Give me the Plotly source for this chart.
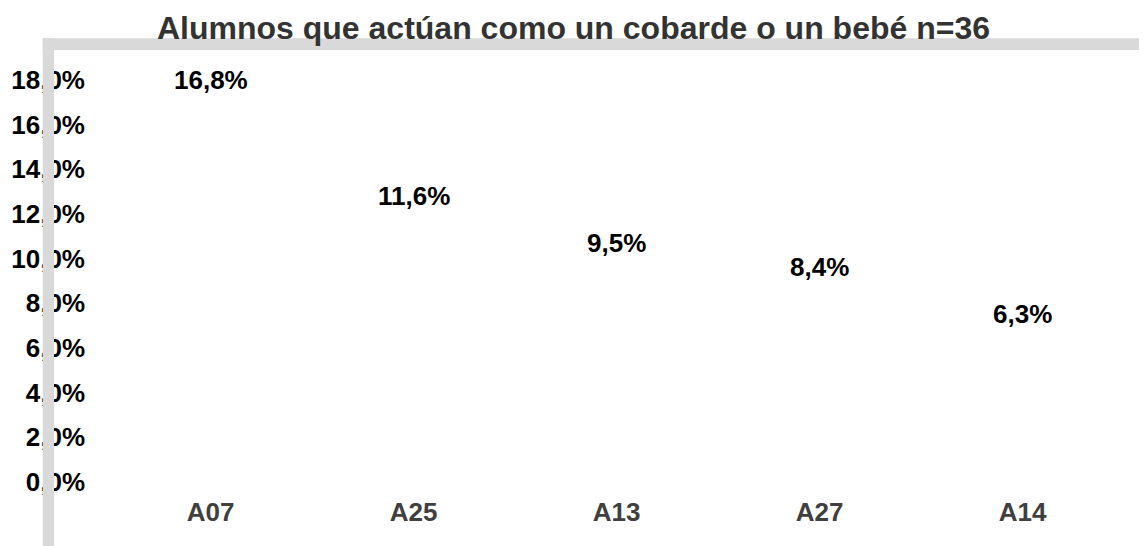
import plotly.graph_objects as go

categories = ["A07", "A25", "A13", "A27", "A14"]
values = [16.8, 11.6, 9.5, 8.4, 6.3]
value_labels = ["16,8%", "11,6%", "9,5%", "8,4%", "6,3%"]
y_tickvals = [0, 2, 4, 6, 8, 10, 12, 14, 16, 18]
y_ticktext = ["0,0%", "2,0%", "4,0%", "6,0%", "8,0%", "10,0%", "12,0%", "14,0%", "16,0%", "18,0%"]
title_text = "Alumnos que actúan como un cobarde o un bebé n=36"

# page body has an 8px margin, so the figure is sized to fit the window
W, H = 1139, 538
ML, MR, MT, MB = 101, 23, 72, 64
FONT = "Liberation Sans, Arial, sans-serif"

fig = go.Figure()
fig.add_trace(go.Bar(
    x=categories, y=values,
    marker=dict(color="rgba(255,255,255,0)", line=dict(width=0)),
    hoverinfo="x+y",
    showlegend=False,
))

annotations = []
for c, v, t in zip(categories, values, value_labels):
    annotations.append(dict(
        x=c, y=v, xref="x", yref="y", text=t, showarrow=False,
        yshift=27, yanchor="middle", xanchor="center",
        font=dict(family=FONT, size=26, color="#000000", weight="bold"),
    ))

pw = W - ML - MR
ph = H - MT - MB
def px_x(px):
    return (px - ML) / pw
def px_y(py):
    return (H - MB - py) / ph

shapes = [
    dict(type="rect", xref="paper", yref="paper", layer="above",
         x0=px_x(34.7), x1=px_x(1160), y0=px_y(42), y1=px_y(30.3),
         fillcolor="#d9d9d9", line=dict(width=0)),
    dict(type="rect", xref="paper", yref="paper", layer="above",
         x0=px_x(34.7), x1=px_x(46), y0=px_y(560), y1=px_y(30.3),
         fillcolor="#d9d9d9", line=dict(width=0)),
]

fig.update_layout(
    width=W, height=H,
    margin=dict(l=ML, r=MR, t=MT, b=MB, autoexpand=False),
    paper_bgcolor="white", plot_bgcolor="white",
    title=dict(text=title_text, x=565.5 / W, xanchor="center", xref="container",
               y=1 - 19.5 / H, yanchor="middle", yref="container",
               font=dict(family=FONT, size=32, color="#333333", weight="bold")),
    xaxis=dict(showgrid=False, zeroline=False, showline=False, ticks="",
               range=[-0.5, 4.5], automargin=False,
               tickfont=dict(family=FONT, size=26, color="#404040", weight="bold"),
               ticklabelstandoff=12),
    yaxis=dict(range=[0, 18], showgrid=False, zeroline=False, showline=False, ticks="",
               tickvals=y_tickvals, ticktext=y_ticktext, automargin=False,
               tickfont=dict(family=FONT, size=26, color="#000000", weight="bold"),
               ticklabelstandoff=23),
    annotations=annotations,
    shapes=shapes,
    bargap=0.4,
)

fig.write_html("out.html")
